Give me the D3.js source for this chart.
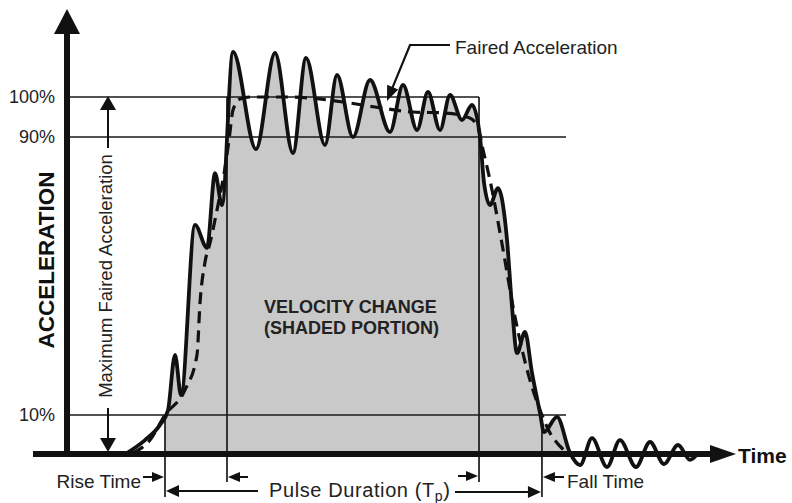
<!DOCTYPE html>
<html>
<head>
<meta charset="utf-8">
<script src="https://cdn.jsdelivr.net/npm/d3@7"></script>
<style>
  html, body { margin: 0; padding: 0; background: #fff; }
  svg { display: block; font-family: "Liberation Sans", Arial, Helvetica, sans-serif; }
</style>
</head>
<body>
<svg id="chart" width="792" height="503"></svg>
<script>
// Crash-pulse acceleration record: time in ms, acceleration in % of max faired value.
const rawTime = [8.98, 11.68, 13.92, 15.12, 16.17, 17.07, 19.16, 20.96, 22.16, 23.2,
  24.85, 28.29, 31.14, 33.83, 35.78, 38.62, 40.42, 42.81, 45.36, 48.35,
  50.3, 52.4, 54.04, 55.84, 57.34, 59.13, 60.63, 61.83, 62.43, 63.32,
  64.52, 65.87, 66.62, 67.37, 68.56, 69.61, 70.81, 71.41, 73.35, 75.3,
  76.8, 78.6, 80.84, 82.78, 85.18, 87.28, 89.37, 91.47, 93.26, 94.46];
const rawAccel = [0, 3.4, 7.4, 11.4, 27.3, 15.7, 64.7, 58.1, 79.6, 70.4,
  111.25, 86.5, 111, 85.4, 109.75, 87.7, 105.5, 90, 104.25, 91.25,
  103, 91.75, 101.25, 91.75, 100.5, 94.25, 98, 90, 76.8, 70.4,
  75.3, 60.4, 41.1, 27.8, 33.9, 22.1, 10.6, 5.5, 9.5, 0,
  -3.2, 3.9, -3.7, 3.4, -3.7, 2.9, -2.9, 2.1, -1.8, 0];

// Faired (smoothed) acceleration
const fairedTime = [9.88, 12.43, 14.67, 17.66, 19.46, 19.91, 20.66, 21.41, 22.6, 23.65,
  24.25, 24.85, 25.9, 27.4, 33, 41.32, 46.1, 51.8, 56.6, 60.3,
  61.5, 62.28, 63.32, 65.1, 67.07, 69.0, 71.1, 72.3, 73.8, 74.85];
const fairedAccel = [0, 3.4, 10, 17.2, 27.3, 42.2, 54, 59.5, 70.4, 81.1,
  89.1, 96.75, 99.5, 100, 100, 98.75, 97.5, 96.25, 96, 94.75,
  92.5, 86.3, 77.6, 59.5, 38.2, 22.1, 10, 5.3, 1.8, 0];

// Reference levels
const levelValues = [10, 90, 100];
const levelLabels = ["10%", "90%", "100%"];

// Event times (ms)
const riseStart = 14.67;   // 10% on the way up
const riseEnd = 23.95;     // 90% on the way up
const fallStart = 61.68;   // 90% on the way down
const fallEnd = 71.1;      // 10% on the way down
const pulseEnd = 75.3;     // pulse returns to zero
const levelLineEnd = 74.7;
const fairedPointer = 47.9;

const svg = d3.select("#chart");
const ink = "#111";

const x = d3.scaleLinear().domain([0, 100]).range([67, 735]);
const y = d3.scaleLinear().domain([0, 10, 90, 100]).range([453, 415, 137, 97]);

const raw = rawTime.map((t, i) => ({ t, v: rawAccel[i] }));
const faired = fairedTime.map((t, i) => ({ t, v: fairedAccel[i] }));

// filled triangular arrow head; (tx,ty) tip, pointing along angle (radians)
function head(g, tx, ty, ang, len, half) {
  const bx = tx - len * Math.cos(ang), by = ty - len * Math.sin(ang);
  const nx = -Math.sin(ang) * half, ny = Math.cos(ang) * half;
  g.append("path")
    .attr("d", `M${tx},${ty}L${bx + nx},${by + ny}L${bx - nx},${by - ny}Z`)
    .attr("fill", ink);
}
function arrow(g, x1, y1, x2, y2, w, len, half) {
  const ang = Math.atan2(y2 - y1, x2 - x1);
  g.append("line")
    .attr("x1", x1).attr("y1", y1)
    .attr("x2", x2 - (len - 1) * Math.cos(ang)).attr("y2", y2 - (len - 1) * Math.sin(ang))
    .attr("stroke", ink).attr("stroke-width", w);
  head(g, x2, y2, ang, len, half);
}

// shaded velocity-change area under the measured pulse
svg.append("clipPath").attr("id", "pulseClip")
  .append("rect").attr("x", x(riseStart)).attr("y", 0)
  .attr("width", x(pulseEnd) - x(riseStart) + 1).attr("height", 503);

const area = d3.area()
  .x(d => x(d.t)).y0(y(0)).y1(d => y(Math.max(0, d.v)))
  .curve(d3.curveMonotoneX);
svg.append("path")
  .datum(raw.filter(d => d.t <= pulseEnd))
  .attr("d", area)
  .attr("clip-path", "url(#pulseClip)")
  .attr("fill", "#c9c9c9");

// reference level lines
const lines = svg.append("g").attr("stroke", "#1a1a1a").attr("stroke-width", 1.7);
levelValues.forEach(v => {
  lines.append("line")
    .attr("x1", x(0)).attr("x2", v === 100 ? x(fallStart) : x(levelLineEnd))
    .attr("y1", y(v)).attr("y2", y(v));
});
// event verticals
lines.append("line").attr("x1", x(riseStart)).attr("x2", x(riseStart)).attr("y1", y(10)).attr("y2", 497);
lines.append("line").attr("x1", x(riseEnd)).attr("x2", x(riseEnd)).attr("y1", y(100)).attr("y2", 482);
lines.append("line").attr("x1", x(fallStart)).attr("x2", x(fallStart)).attr("y1", y(100)).attr("y2", 482);
lines.append("line").attr("x1", x(fallEnd)).attr("x2", x(fallEnd)).attr("y1", y(10)).attr("y2", 497);

// faired curve (dashed)
const line = d3.line().x(d => x(d.t)).y(d => y(d.v)).curve(d3.curveMonotoneX);
svg.append("path").datum(faired).attr("d", line)
  .attr("fill", "none").attr("stroke", ink).attr("stroke-width", 3.2)
  .attr("stroke-dasharray", "12,7");

// measured acceleration
svg.append("path").datum(raw).attr("d", line)
  .attr("fill", "none").attr("stroke", ink).attr("stroke-width", 3.8)
  .attr("stroke-linejoin", "round");

// axes drawn as heavy arrows
const ax = svg.append("g");
ax.append("line").attr("x1", x(0)).attr("x2", x(0)).attr("y1", 457).attr("y2", 30)
  .attr("stroke", ink).attr("stroke-width", 6);
head(ax, x(0), 9, -Math.PI / 2, 25, 13);
ax.append("line").attr("x1", 33).attr("x2", 712).attr("y1", y(0) + 1).attr("y2", y(0) + 1)
  .attr("stroke", ink).attr("stroke-width", 6);
head(ax, 736, y(0) + 1, 0, 26, 9);

// level labels on the acceleration axis
const yAxis = d3.axisLeft(y).tickValues(levelValues)
  .tickFormat((d, i) => levelLabels[i]).tickSize(0).tickPadding(12);
const ya = svg.append("g").attr("transform", `translate(${x(0)},0)`).call(yAxis);
ya.select(".domain").remove();
ya.selectAll("text").attr("font-size", 18).attr("fill", "#222")
  .attr("font-family", "'Liberation Sans', Arial, sans-serif");

// axis titles
svg.append("text").attr("transform", "translate(46,260) rotate(-90)")
  .attr("text-anchor", "middle").attr("dominant-baseline", "central")
  .attr("font-size", 22.5).attr("font-weight", "bold").attr("fill", ink)
  .text("ACCELERATION");
svg.append("text").attr("x", 738).attr("y", y(0) + 2)
  .attr("dominant-baseline", "central")
  .attr("font-size", 21).attr("font-weight", "bold").attr("fill", ink)
  .text("Time");

// maximum faired acceleration dimension
const ann = svg.append("g");
arrow(ann, 108, 148, 108, y(100) - 1, 2, 14, 8);
arrow(ann, 108, 408, 108, y(0) - 1, 2, 14, 8);
svg.append("text").attr("transform", "translate(105,276) rotate(-90)")
  .attr("text-anchor", "middle").attr("dominant-baseline", "central")
  .attr("font-size", 18.5).attr("fill", "#222")
  .text("Maximum Faired Acceleration");

// faired acceleration callout
const tipX = x(fairedPointer), tipY = y(99);
ann.append("polyline")
  .attr("points", `450,45 410,45 ${410 + (tipX - 410) * 0.8},${45 + (tipY - 45) * 0.8}`)
  .attr("fill", "none").attr("stroke", ink).attr("stroke-width", 2.2);
head(ann, tipX, tipY, Math.atan2(tipY - 45, tipX - 410), 15, 6);
svg.append("text").attr("x", 455).attr("y", 47)
  .attr("dominant-baseline", "central").attr("font-size", 19).attr("fill", "#222")
  .text("Faired Acceleration");

// shaded region label
const vc = svg.append("text").attr("font-size", 18).attr("font-weight", "bold").attr("fill", "#222");
vc.append("tspan").attr("x", 264).attr("y", 313).text("VELOCITY CHANGE");
vc.append("tspan").attr("x", 264).attr("y", 334).text("(SHADED PORTION)");

// timing annotations below the axis
arrow(ann, 143, 477, x(riseStart) - 1, 477, 2, 12, 5);
arrow(ann, 248, 477, x(riseEnd) + 1, 477, 2, 12, 5);
arrow(ann, 258, 491, x(riseStart) + 1, 491, 2, 13, 6);
arrow(ann, 455, 492, x(fallEnd) - 1, 492, 2, 13, 6);
arrow(ann, 458, 476, x(fallStart) - 1, 476, 2, 12, 5);
arrow(ann, 564, 477, x(fallEnd) + 1, 477, 2, 12, 5);

svg.append("text").attr("x", 141).attr("y", 481).attr("text-anchor", "end")
  .attr("dominant-baseline", "central").attr("font-size", 19).attr("fill", "#222")
  .text("Rise Time");
svg.append("text").attr("x", 567).attr("y", 481)
  .attr("dominant-baseline", "central").attr("font-size", 19).attr("fill", "#222")
  .text("Fall Time");
const pd = svg.append("text").attr("x", 269).attr("y", 497)
  .attr("font-size", 20).attr("letter-spacing", 0.6).attr("fill", "#222");
pd.append("tspan").text("Pulse Duration (T");
pd.append("tspan").attr("font-size", 14).attr("dy", 4).text("p");
pd.append("tspan").attr("dy", -4).text(")");
</script>
</body>
</html>
